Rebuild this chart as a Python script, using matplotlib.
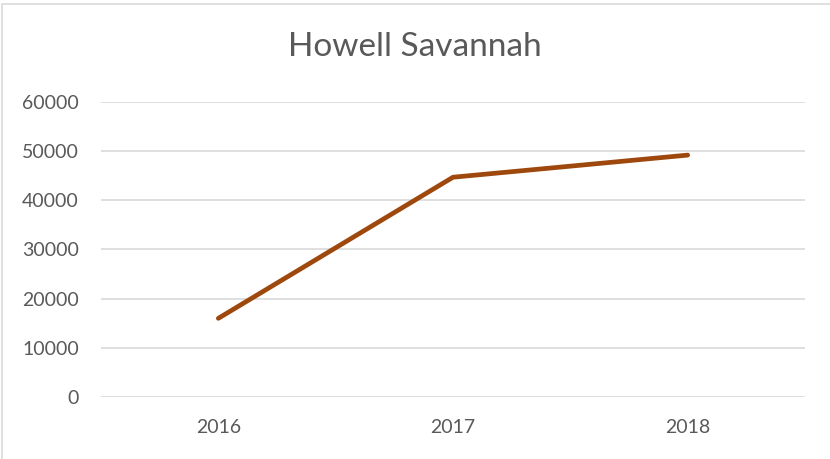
import matplotlib.pyplot as plt
from matplotlib.patches import Rectangle

years = ['2016', '2017', '2018']
visitors = [16000, 44700, 49200]
y_ticks = [0, 10000, 20000, 30000, 40000, 50000, 60000]

plt.rcParams['font.family'] = ['Lato', 'DejaVu Sans']

fig = plt.figure(figsize=(8.3, 4.59), dpi=100)
ax = fig.add_axes([101 / 830, 1 - 397 / 459, 704 / 830, 295 / 459])

x = range(len(years))
ax.plot(x, visitors, color='#9E480E', linewidth=3.4, solid_capstyle='round',
        solid_joinstyle='round', zorder=3)

ax.set_xlim(-0.5, len(years) - 0.5)
ax.set_ylim(0, 60000)
ax.set_yticks(y_ticks)
ax.set_yticklabels([str(v) for v in y_ticks])
ax.set_xticks(list(x))
ax.set_xticklabels(years)
ax.tick_params(length=0, labelsize=14, colors='#595959')
ax.tick_params(axis='y', pad=16)
ax.tick_params(axis='x', pad=16)
ax.grid(axis='y', color='#D9D9D9', linewidth=1.2)
ax.set_axisbelow(True)
for s in ax.spines.values():
    s.set_visible(False)

fig.text(0.5, 1 - 47 / 459, 'Howell Savannah', ha='center', va='center',
         fontsize=24, color='#595959')

# outer chart border
fig.patches.append(Rectangle((2 / 830, -0.05), 1.1, 1 - 4 / 459 + 0.05,
                             transform=fig.transFigure, fill=False,
                             edgecolor='#D9D9D9', linewidth=1.2))

fig.savefig('out.png', dpi=100)
